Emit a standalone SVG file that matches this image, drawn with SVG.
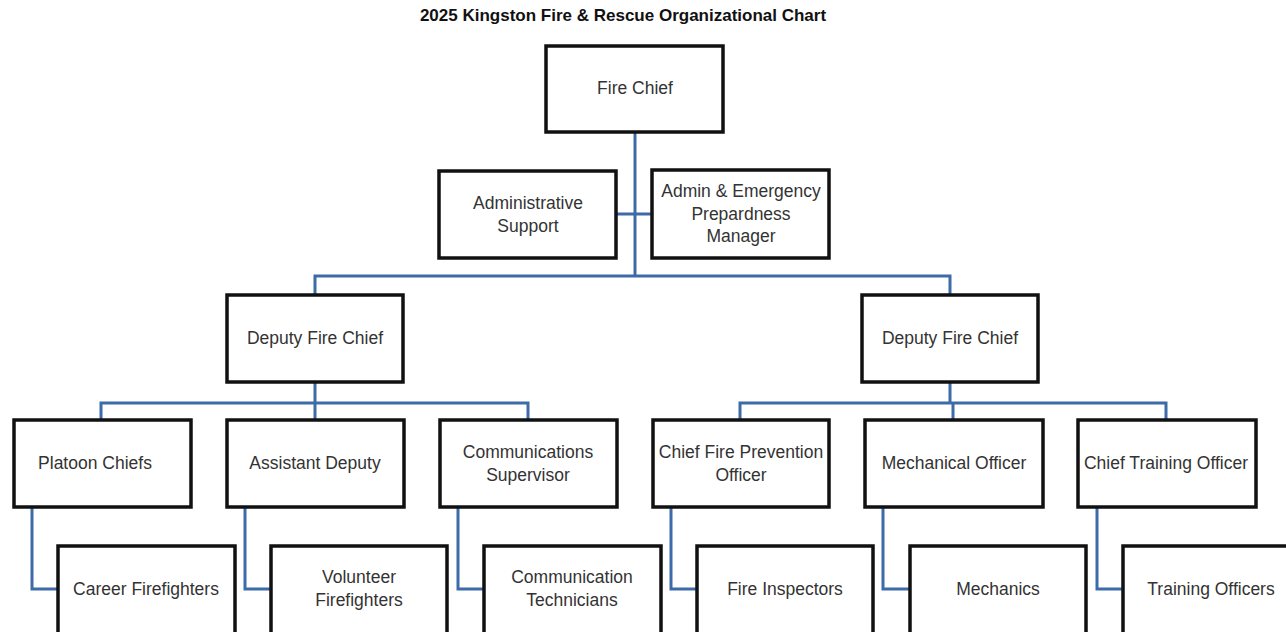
<svg xmlns="http://www.w3.org/2000/svg" width="1286" height="632" viewBox="0 0 1286 632">
<style>
.box{fill:#fff;stroke:#111;stroke-width:3.5}
.t{font-family:"Liberation Sans",Arial,sans-serif;font-size:17.5px;fill:#333;text-anchor:middle;dominant-baseline:central}
.title{font-family:"Liberation Sans",Arial,sans-serif;font-size:17px;font-weight:bold;fill:#111;text-anchor:middle;dominant-baseline:central}
.c{fill:none;stroke:#3d6aa8;stroke-width:3}
</style>
<rect width="1286" height="632" fill="#fff"/>
<text class="title" x="623" y="15">2025 Kingston Fire &amp; Rescue Organizational Chart</text>
<g id="connectors">
<path class="c" d="M635 132V276"/>
<path class="c" d="M616 214H652"/>
<path class="c" d="M315 295V276H950V295"/>
<path class="c" d="M315 382V420M101 420V403H528V420"/>
<path class="c" d="M950 382V403M740 420V403H1166V420M953 403V420"/>
<path class="c" d="M32 507V589H58"/>
<path class="c" d="M245 507V589H271"/>
<path class="c" d="M458 507V589H484"/>
<path class="c" d="M671 507V589H697"/>
<path class="c" d="M883 507V589H910"/>
<path class="c" d="M1097 507V589H1123"/>
</g>
<g id="fire-chief"><rect class="box" x="546" y="46" width="177" height="86"/><text class="t" x="635" y="88">Fire Chief</text></g>
<g id="admin-support"><rect class="box" x="439" y="171" width="177" height="87"/><text class="t" x="528" y="203">Administrative</text><text class="t" x="528" y="226">Support</text></g>
<g id="admin-emergency"><rect class="box" x="652" y="170" width="177" height="88"/><text class="t" x="741" y="191">Admin &amp; Emergency</text><text class="t" x="741" y="214">Prepardness</text><text class="t" x="741" y="236">Manager</text></g>
<g id="deputy-left"><rect class="box" x="227" y="295" width="176" height="87"/><text class="t" x="315" y="338">Deputy Fire Chief</text></g>
<g id="deputy-right"><rect class="box" x="862" y="295" width="176" height="87"/><text class="t" x="950" y="338">Deputy Fire Chief</text></g>
<g id="platoon-chiefs"><rect class="box" x="14" y="420" width="177" height="87"/><text class="t" x="95" y="463">Platoon Chiefs</text></g>
<g id="assistant-deputy"><rect class="box" x="227" y="420" width="177" height="87"/><text class="t" x="315" y="463">Assistant Deputy</text></g>
<g id="comm-supervisor"><rect class="box" x="440" y="420" width="177" height="87"/><text class="t" x="528" y="452">Communications</text><text class="t" x="528" y="475">Supervisor</text></g>
<g id="chief-fire-prevention"><rect class="box" x="653" y="420" width="176" height="87"/><text class="t" x="741" y="452">Chief Fire Prevention</text><text class="t" x="741" y="475">Officer</text></g>
<g id="mechanical-officer"><rect class="box" x="865" y="420" width="178" height="87"/><text class="t" x="954" y="463">Mechanical Officer</text></g>
<g id="chief-training"><rect class="box" x="1078" y="420" width="178" height="87"/><text class="t" x="1166" y="463">Chief Training Officer</text></g>
<g id="career-ff"><rect class="box" x="58" y="546" width="177" height="95"/><text class="t" x="146" y="589">Career Firefighters</text></g>
<g id="volunteer-ff"><rect class="box" x="271" y="546" width="176" height="95"/><text class="t" x="359" y="577">Volunteer</text><text class="t" x="359" y="600">Firefighters</text></g>
<g id="comm-tech"><rect class="box" x="484" y="546" width="177" height="95"/><text class="t" x="572" y="577">Communication</text><text class="t" x="572" y="600">Technicians</text></g>
<g id="fire-inspectors"><rect class="box" x="697" y="546" width="176" height="95"/><text class="t" x="785" y="589">Fire Inspectors</text></g>
<g id="mechanics"><rect class="box" x="910" y="546" width="176" height="95"/><text class="t" x="998" y="589">Mechanics</text></g>
<g id="training-officers"><rect class="box" x="1123" y="546" width="177" height="95"/><text class="t" x="1211" y="589">Training Officers</text></g>
</svg>
